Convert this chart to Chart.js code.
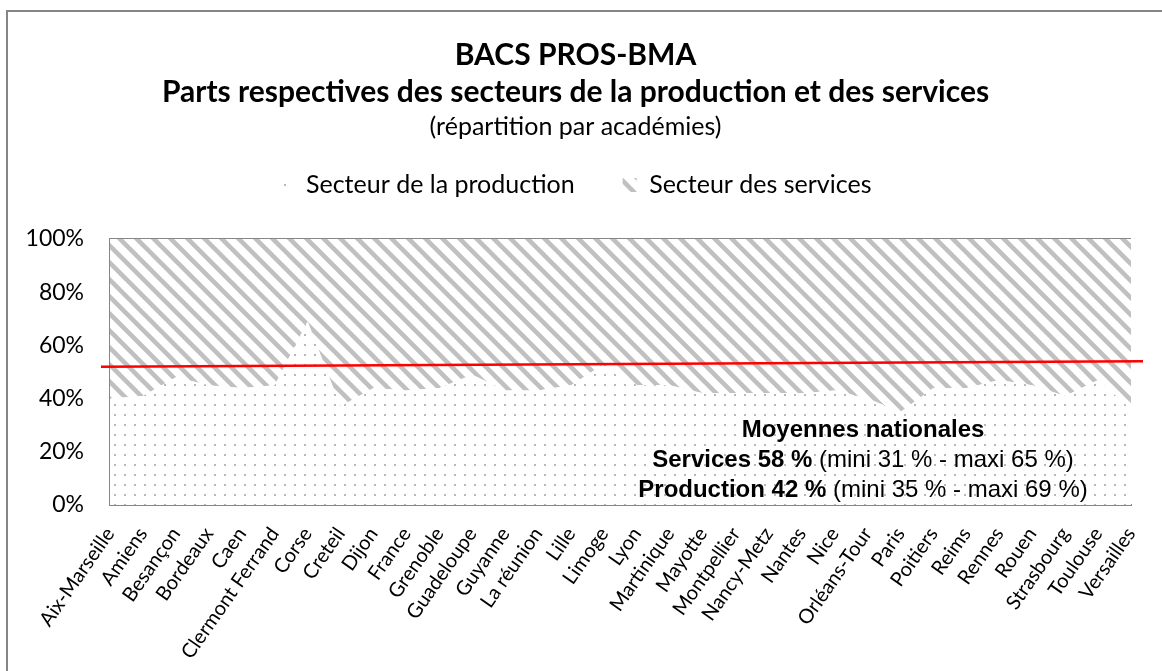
<!DOCTYPE html>
<html>
<head>
<meta charset="utf-8">
<script src="https://cdn.jsdelivr.net/npm/chart.js@4.4.1/dist/chart.umd.min.js"></script>
<style>
body { margin: 0; background: #fff; }
#wrap { width: 1162px; height: 671px; position: relative; }
</style>
</head>
<body>
<div id="wrap"><canvas id="chart"></canvas></div>
<script>
// données (parts en %)
const academies = ["Aix-Marseille", "Amiens", "Besançon", "Bordeaux", "Caen", "Clermont Ferrand",
  "Corse", "Creteil", "Dijon", "France", "Grenoble", "Guadeloupe", "Guyanne", "La réunion",
  "Lille", "Limoge", "Lyon", "Martinique", "Mayotte", "Montpellier", "Nancy-Metz", "Nantes",
  "Nice", "Orléans-Tour", "Paris", "Poitiers", "Reims", "Rennes", "Rouen", "Strasbourg",
  "Toulouse", "Versailles"];
const production = [40, 41, 48, 45, 44, 45, 69, 37, 44, 43, 44, 49, 43, 43, 45, 53,
  45, 45, 42, 42, 42, 42, 43, 40, 35, 44, 44, 47, 45, 41, 47, 36];
const services = [60, 59, 52, 55, 56, 55, 31, 63, 56, 57, 56, 51, 57, 57, 55, 47,
  55, 55, 58, 58, 58, 58, 57, 60, 65, 56, 56, 53, 55, 59, 53, 64];
const yTicks = [0, 20, 40, 60, 80, 100];
const moyenneLine = [52, 54];
const noteLines = [
  [["Moyennes nationales", true]],
  [["Services 58 %", true], [" (mini 31 % - maxi 65 %)", false]],
  [["Production 42 %", true], [" (mini 35 % - maxi 69 %)", false]]
];

function dotPattern() {
  const c = document.createElement("canvas");
  c.width = 10; c.height = 10;
  const g = c.getContext("2d");
  g.fillStyle = "#fff";
  g.fillRect(0, 0, 10, 10);
  g.fillStyle = "#b8b8b8";
  g.fillRect(4, 4, 2, 2);
  return g.createPattern(c, "repeat");
}

function hatchPattern() {
  const s = 17;
  const c = document.createElement("canvas");
  c.width = s; c.height = s;
  const g = c.getContext("2d");
  g.fillStyle = "#fff";
  g.fillRect(0, 0, s, s);
  g.strokeStyle = "#c0c0c0";
  g.lineWidth = 4.5;
  for (let k = -1; k <= 1; k++) {
    g.beginPath();
    g.moveTo(-s, -s + k * s);
    g.lineTo(2 * s, 2 * s + k * s);
    g.stroke();
  }
  return g.createPattern(c, "repeat");
}

// espace entre la légende et la zone de tracé
const legendGap = {
  id: "legendGap",
  afterInit(chart) {
    const lg = chart.legend;
    if (!lg || lg._gapDone) return;
    const fit = lg.fit;
    lg.fit = function () { fit.call(this); this.height += 31.5; };
    lg._gapDone = true;
  }
};

const frame = {
  id: "frame",
  afterDraw(chart) {
    const ctx = chart.ctx;
    ctx.save();
    ctx.strokeStyle = "#868686";
    ctx.lineWidth = 2;
    ctx.strokeRect(7, 11, 1200, 700);
    ctx.restore();
  }
};

const moyenne = {
  id: "moyenne",
  afterDatasetsDraw(chart) {
    const { ctx, chartArea: a, scales: { y } } = chart;
    const y0 = y.getPixelForValue(moyenneLine[0]);
    const y1 = y.getPixelForValue(moyenneLine[1]);
    const k = (y1 - y0) / (a.right - a.left);
    const xs = a.left - 9, xe = a.right + 12;
    ctx.save();
    ctx.strokeStyle = "#ff0000";
    ctx.lineWidth = 2.5;
    ctx.beginPath();
    ctx.moveTo(xs, y0 + k * (xs - a.left));
    ctx.lineTo(xe, y0 + k * (xe - a.left));
    ctx.stroke();
    ctx.restore();
  }
};

const note = {
  id: "note",
  afterDraw(chart) {
    const { ctx, chartArea: a } = chart;
    const cx = a.right - 268;
    ctx.save();
    ctx.fillStyle = "#000";
    ctx.textBaseline = "middle";
    ctx.textAlign = "left";
    noteLines.forEach((parts, i) => {
      const cy = a.bottom - 75 + i * 30;
      let w = 0;
      parts.forEach(([t, b]) => {
        ctx.font = (b ? "bold " : "") + "24px 'Liberation Sans', Arial, sans-serif";
        w += ctx.measureText(t).width;
      });
      let x = cx - w / 2;
      parts.forEach(([t, b]) => {
        ctx.font = (b ? "bold " : "") + "24px 'Liberation Sans', Arial, sans-serif";
        ctx.fillText(t, x, cy);
        x += ctx.measureText(t).width;
      });
    });
    ctx.restore();
  }
};

Chart.defaults.font.family = "Lato, 'Open Sans', sans-serif";
Chart.defaults.color = "#000";

new Chart(document.getElementById("chart"), {
  type: "line",
  data: {
    labels: academies,
    datasets: [
      {
        label: "Secteur de la production",
        data: production,
        fill: "origin",
        backgroundColor: dotPattern(),
        borderColor: "rgba(0,0,0,0)",
        borderWidth: 0,
        pointRadius: 0,
        tension: 0
      },
      {
        label: "Secteur des services",
        data: services,
        fill: "-1",
        backgroundColor: hatchPattern(),
        borderColor: "rgba(0,0,0,0)",
        borderWidth: 0,
        pointRadius: 0,
        tension: 0
      }
    ]
  },
  options: {
    responsive: true,
    maintainAspectRatio: false,
    animation: false,
    layout: { padding: { top: 12, left: 20, right: 31, bottom: 0 } },
    plugins: {
      title: {
        display: true,
        text: ["BACS PROS-BMA", "Parts respectives des secteurs de la production et des services"],
        font: { size: 30, weight: "bold", lineHeight: 1.233 },
        padding: { top: 24.5, bottom: 0 }
      },
      subtitle: {
        display: true,
        text: "(répartition par académies)",
        font: { size: 25, lineHeight: 1.2 },
        color: "#000",
        padding: { top: 1.5, bottom: -17.5 }
      },
      legend: {
        labels: { boxWidth: 14, boxHeight: 14, padding: 48, font: { size: 25 }, color: "#000" }
      },
      tooltip: { enabled: false }
    },
    scales: {
      x: {
        z: 1,
        afterFit(s) { s.height = 166; },
        ticks: { autoSkip: false, minRotation: 55, maxRotation: 55, font: { size: 20 }, padding: 10 },
        grid: { display: false },
        border: { color: "#868686", width: 2 }
      },
      y: {
        stacked: true,
        min: 0,
        max: 100,
        z: 1,
        afterFit(s) { s.width = 90; },
        afterBuildTicks(s) { s.ticks = yTicks.map(v => ({ value: v })); },
        ticks: { callback: v => v + "%", font: { size: 23 }, padding: 26 },
        grid: {
          drawTicks: false,
          lineWidth: 1.5,
          color: c => (c.tick && c.tick.value === 100 ? "#868686" : "rgba(0,0,0,0)")
        },
        border: { color: "#868686", width: 2 }
      }
    }
  },
  plugins: [legendGap, moyenne, note, frame]
});
</script>
</body>
</html>
